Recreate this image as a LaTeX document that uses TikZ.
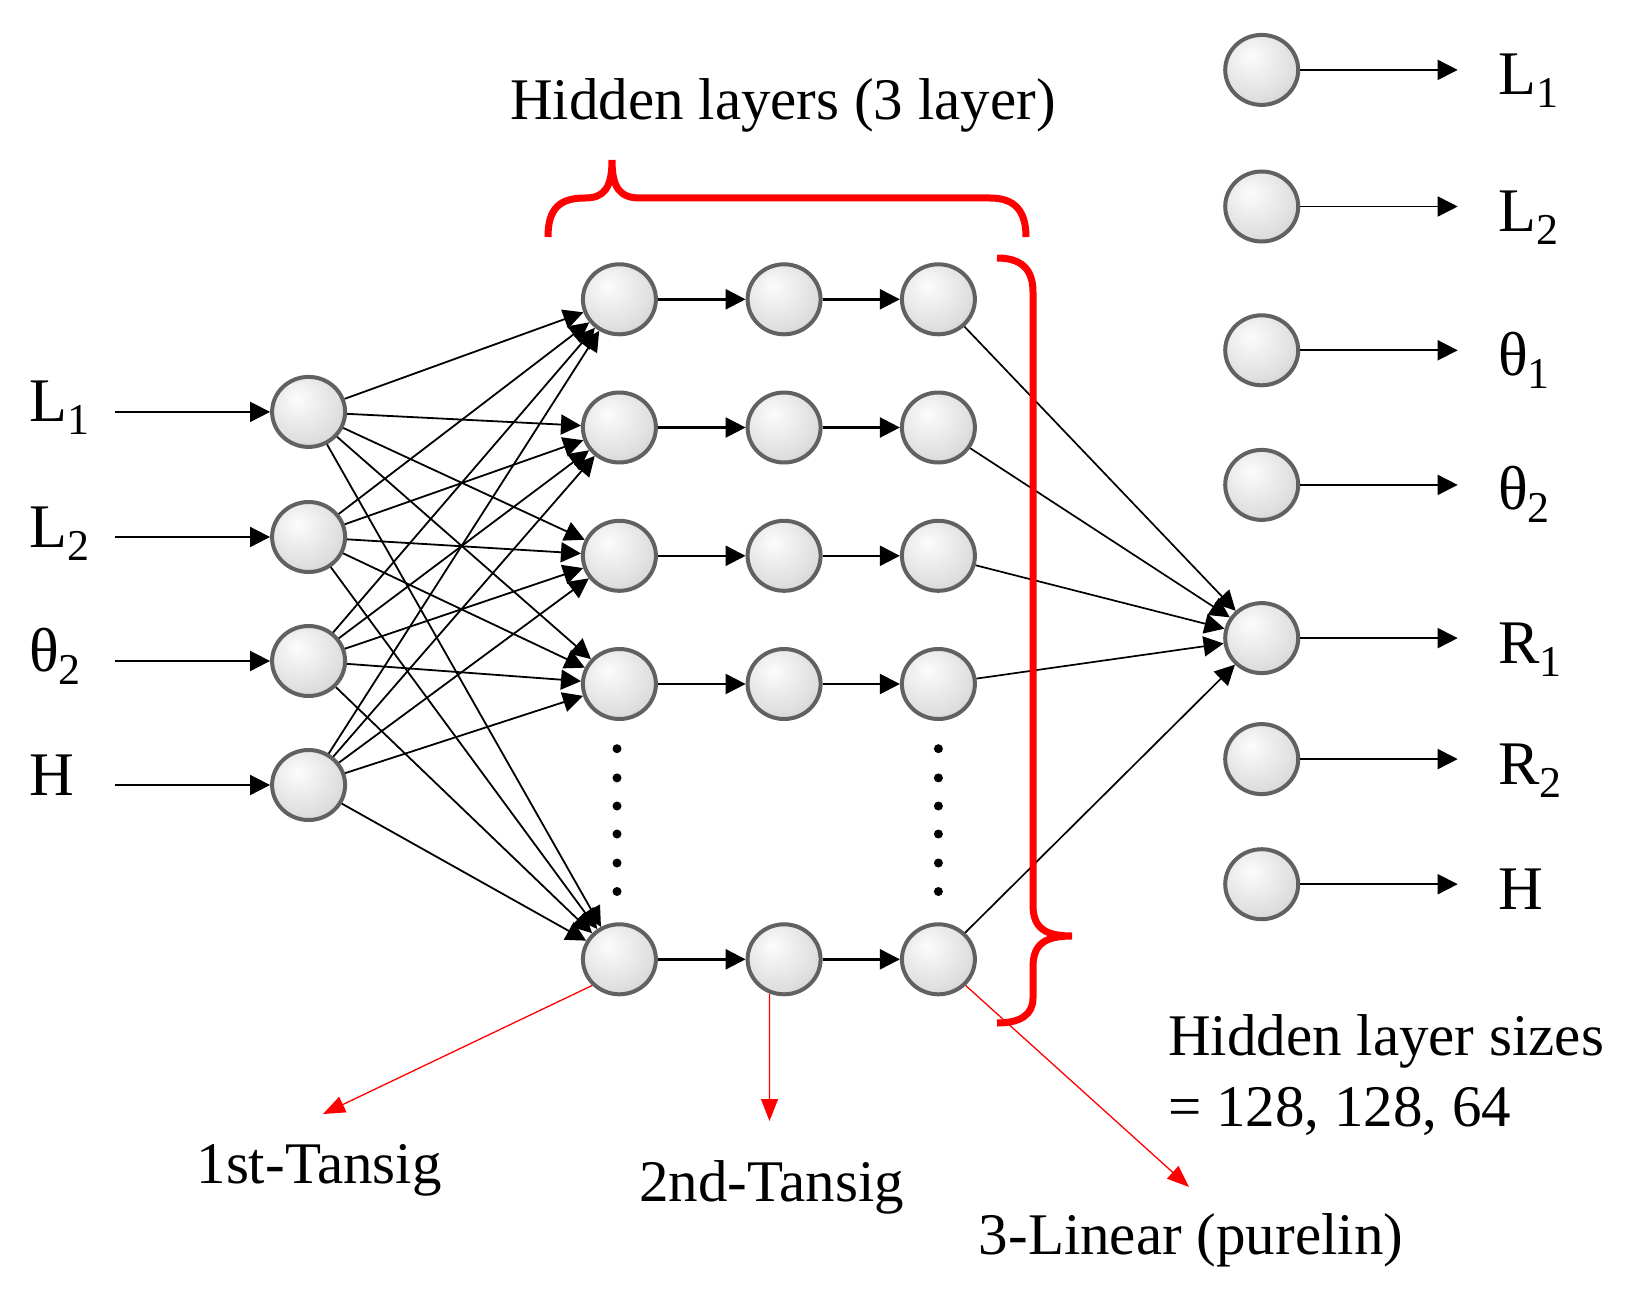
\documentclass[tikz,border=0pt]{standalone}
\usepackage{fontspec}
\setmainfont{Liberation Serif}
\usetikzlibrary{arrows.meta,shapes.geometric}
\pgfdeclareradialshading{sphere}{\pgfpoint{-8bp}{10bp}}{color(0bp)=(gray!2); color(9bp)=(gray!10); color(28bp)=(gray!26); color(42bp)=(gray!46); color(50bp)=(gray!72); color(80bp)=(gray!72)}
\newcommand{\lab}[2]{#1\raisebox{-13pt}{\fontsize{44}{44}\selectfont #2}}
\tikzset{
  neuron/.style={ellipse, minimum width=73pt, minimum height=70pt, inner sep=0pt,
    draw=black!62, line width=4pt, shading=sphere},
  conn/.style={line width=1.8pt, -{Triangle[length=20pt,width=20pt]}},
  hconn/.style={line width=2.4pt, -{Triangle[length=20pt,width=20pt]}},
  outconn/.style={line width=1.7pt, -{Triangle[length=20pt,width=20pt]}},
  redarrow/.style={draw=red, line width=1.3pt, -{Triangle[length=22pt,width=17pt]}},
  brace/.style={draw=red, line width=7pt},
  big/.style={font=\fontsize{62}{70}\selectfont, inner sep=0pt},
  txt/.style={font=\fontsize{59}{66}\selectfont, inner sep=0pt},
  dotc/.style={fill=black}
}
\begin{document}
\begin{tikzpicture}[x=1pt,y=-1pt]
\useasboundingbox (0,0) rectangle (1635,1300);

% input neurons
\node[neuron] (in1) at (308.6,411.9) {};
\node[neuron] (in2) at (308.6,537) {};
\node[neuron] (in3) at (308.6,661) {};
\node[neuron] (in4) at (308.6,785) {};

% hidden neurons
\foreach \c/\x in {a/619.4,b/784.1,c/938.4}{
  \foreach \r/\y in {1/299.3,2/427.5,3/555.8,4/684,5/959.3}{
    \node[neuron] (\c\r) at (\x,\y) {};
  }
}

% output neurons
\foreach \r/\y in {1/69.9,2/206.5,3/350.3,4/484.9,5/638.1,6/759.1,7/884.2}{
  \node[neuron] (o\r) at (1261.7,\y) {};
  \coordinate (t\r) at (1457.7,\y);
  \draw[outconn] (o\r) -- (t\r);
}

% input labels and arrows
\foreach \r/\y in {1/411.9,2/537,3/661,4/785}{
  \coordinate (s\r) at (114.7,\y);
  \draw[conn] (s\r) -- (in\r);
}
\node[big, anchor=base west] (li1) at (29,421.9) {\lab{L}{1}};
\node[big, anchor=base west] (li2) at (29,547) {\lab{L}{2}};
\node[big, anchor=base west] (li3) at (29,671) {\lab{θ}{2}};
\node[big, anchor=base west] (li4) at (29,795) {H};

% output labels
\node[big, anchor=base west] (lo1) at (1498,95) {\lab{L}{1}};
\node[big, anchor=base west] (lo2) at (1498,231.5) {\lab{L}{2}};
\node[big, anchor=base west] (lo3) at (1498,375.3) {\lab{θ}{1}};
\node[big, anchor=base west] (lo4) at (1498,509.9) {\lab{θ}{2}};
\node[big, anchor=base west] (lo5) at (1498,663.1) {\lab{R}{1}};
\node[big, anchor=base west] (lo6) at (1498,784.1) {\lab{R}{2}};
\node[big, anchor=base west] (lo7) at (1498,909.2) {H};

% full connections input -> first hidden
\foreach \i in {1,...,4}{
  \foreach \r in {1,...,5}{
    \draw[conn] (in\i) -- (a\r);
  }
}
% hidden chain and to output
\foreach \r in {1,...,5}{
  \draw[hconn] (a\r) -- (b\r);
  \draw[hconn] (b\r) -- (c\r);
  \draw[outconn] (c\r) -- (o5);
}

% dots
\foreach \y in {748.7,777.9,806,834,863,891.5}{
  \fill[dotc] (617,\y) circle (4.5);
  \fill[dotc] (938.4,\y) circle (4.5);
}

% braces
\draw[brace] (548,237) .. controls (548,208) and (560,198) .. (585,198)
  .. controls (604,198) and (612,188) .. (612,160)
  .. controls (612,188) and (620,198) .. (640,198) -- (990,198)
  .. controls (1014,198) and (1026,210) .. (1026,237);
\draw[brace] (997,258) .. controls (1020,258) and (1033,268) .. (1033,292) -- (1033,905)
  .. controls (1033,928) and (1045,936) .. (1072,936)
  .. controls (1045,936) and (1033,944) .. (1033,967) -- (1033,998)
  .. controls (1033,1015) and (1020,1023) .. (997,1023);

% title
\node[txt, anchor=base] (title) at (783,120) {Hidden layers (3 layer)};

% red arrows and activation labels
\coordinate (e1) at (323,1114);
\coordinate (e2) at (769.5,1121);
\coordinate (e3) at (1189,1187);
\draw[redarrow] (a5.south west) -- (e1);
\draw[redarrow] (b5.-113) -- (e2);
\draw[redarrow] (c5.south east) -- (e3);
\node[txt, anchor=base] (act1) at (319,1183.5) {1st-Tansig};
\node[txt, anchor=base] (act2) at (771.6,1201) {2nd-Tansig};
\node[txt, anchor=base] (act3) at (1191,1254) {3-Linear (purelin)};

% sizes
\node[txt, anchor=base west] (sz1) at (1168,1055) {Hidden layer sizes};
\node[txt, anchor=base west] (sz2) at (1168,1126) {= 128, 128, 64};
\end{tikzpicture}
\end{document}
